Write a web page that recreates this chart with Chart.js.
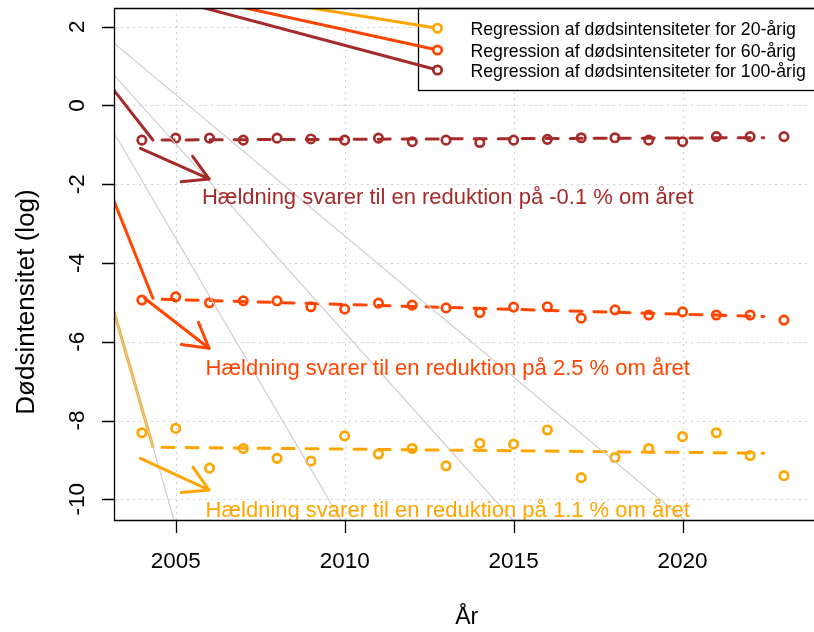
<!DOCTYPE html>
<html>
<head>
<meta charset="utf-8">
<script src="https://cdn.jsdelivr.net/npm/chart.js@4.4.0/dist/chart.umd.min.js"></script>
<style>
  html, body { margin: 0; padding: 0; background: #ffffff; overflow: hidden; }
  #wrap { width: 814px; height: 632px; }
</style>
</head>
<body>
<div id="wrap"><canvas id="chart" width="814" height="632"></canvas></div>
<script>
const years = [2004, 2005, 2006, 2007, 2008, 2009, 2010, 2011, 2012, 2013,
               2014, 2015, 2016, 2017, 2018, 2019, 2020, 2021, 2022, 2023];
const mort100 = [-0.88, -0.83, -0.83, -0.88, -0.83, -0.85, -0.88, -0.83, -0.92, -0.88,
                 -0.94, -0.88, -0.86, -0.82, -0.82, -0.88, -0.92, -0.79, -0.79, -0.79];
const mort60 = [-4.94, -4.86, -5.01, -4.96, -4.96, -5.11, -5.17, -5.02, -5.07, -5.14,
                -5.26, -5.12, -5.11, -5.40, -5.19, -5.32, -5.24, -5.32, -5.32, -5.45];
const mort20 = [-8.31, -8.20, -9.21, -8.71, -8.96, -9.03, -8.39, -8.85, -8.71, -9.15,
                -8.58, -8.60, -8.24, -9.45, -8.94, -8.71, -8.41, -8.31, -8.89, -9.40];

// Fitted (dashed) regression lines: end points
const regYears = [2004.6, 2022.4];
const reg100 = [-0.876, -0.818];
const reg60 = [-4.92, -5.36];
const reg20 = [-8.68, -8.83];

// Steep solid segments at the left edge
const segYears = [2003.0, 2004.326];
const seg100 = [0.574, -0.876];
const seg60 = [-2.05, -4.896];
const seg20 = [-4.715, -8.664];

// Lines running up to the legend symbols
const legendLineYears = { a20: [2008.5, 2012.747], a60: [2006.7, 2012.747], a100: [2005.5, 2012.747] };
const legendLine20 = [2.546, 1.960];
const legendLine60 = [2.544, 1.409];
const legendLine100 = [2.554, 0.901];

// Grey diagonal lines (start / end)
const greyLines = [
  [[2003.0, 1.705], [2020.2, -10.624]],
  [[2003.0, 0.942], [2015.1, -10.647]],
  [[2003.0, -0.442], [2010.0, -10.70]],
  [[2003.0, -4.715], [2005.1, -10.97]]
];

// Arrows: [x0, y0, x1, y1]
const arrow100 = [2003.957, -1.087, 2005.987, -1.866];
const arrow60 = [2004.08, -4.896, 2005.987, -6.166];
const arrow20 = [2003.957, -8.959, 2005.987, -9.764];

// Slope notes
const noteX = 2013.05;
const noteY = [-2.356, -6.68, -10.29];
const noteText = [
  'Hældning svarer til en reduktion på -0.1 % om året',
  'Hældning svarer til en reduktion på 2.5 % om året',
  'Hældning svarer til en reduktion på 1.1 % om året'
];

const legendLabels = [
  'Regression af dødsintensiteter for 20-årig',
  'Regression af dødsintensiteter for 60-årig',
  'Regression af dødsintensiteter for 100-årig'
];

const xTicks = [2005, 2010, 2015, 2020];
const yTicks = [2, 0, -2, -4, -6, -8, -10];

const BROWN = '#A52A2A';
const ORANGERED = '#FF4500';
const ORANGE = '#FFA500';
const GREY = '#cdcdcd';
const FONT = '"Liberation Sans", Arial, Helvetica, sans-serif';

function pts(xs, ys) {
  return xs.map((x, i) => ({ x: x, y: ys[i] }));
}

function lineSet(data, color, width, extra) {
  return Object.assign({
    data: data,
    showLine: true,
    borderColor: color,
    borderWidth: width,
    borderCapStyle: 'round',
    pointRadius: 0,
    pointHoverRadius: 0,
    tension: 0,
    clip: 0
  }, extra || {});
}

function pointSet(data, color) {
  return {
    data: data,
    showLine: false,
    pointStyle: 'circle',
    pointRadius: 4.2,
    pointHoverRadius: 4.2,
    pointBorderWidth: 2.7,
    pointBorderColor: color,
    pointBackgroundColor: 'rgba(0,0,0,0)',
    clip: 0
  };
}

function legendSet(xs, ys, color) {
  return lineSet(pts(xs, ys), color, 3, {
    pointRadius: [0, 4.2],
    pointHoverRadius: [0, 4.2],
    pointBorderWidth: 2.7,
    pointBorderColor: color,
    pointBackgroundColor: '#ffffff'
  });
}

const datasets = [];
greyLines.forEach(l => {
  datasets.push(lineSet(l.map(p => ({ x: p[0], y: p[1] })), GREY, 1.2));
});
datasets.push(lineSet(pts(segYears, seg100), BROWN, 3));
datasets.push(lineSet(pts(segYears, seg60), ORANGERED, 3));
datasets.push(lineSet(pts(segYears, seg20), ORANGE, 3));
datasets.push(legendSet(legendLineYears.a20, legendLine20, ORANGE));
datasets.push(legendSet(legendLineYears.a60, legendLine60, ORANGERED));
datasets.push(legendSet(legendLineYears.a100, legendLine100, BROWN));
datasets.push(lineSet(pts(regYears, reg100), BROWN, 3, { borderDash: [12, 12] }));
datasets.push(lineSet(pts(regYears, reg60), ORANGERED, 3, { borderDash: [12, 12] }));
datasets.push(lineSet(pts(regYears, reg20), ORANGE, 3, { borderDash: [12, 12] }));
datasets.push(pointSet(pts(years, mort100), BROWN));
datasets.push(pointSet(pts(years, mort60), ORANGERED));
datasets.push(pointSet(pts(years, mort20), ORANGE));

// index of the legend line datasets (20, 60, 100)
const legendIdx = [7, 8, 9];

function drawArrow(ctx, xs, ys, a, color) {
  const x0 = xs.getPixelForValue(a[0]), y0 = ys.getPixelForValue(a[1]);
  const x1 = xs.getPixelForValue(a[2]), y1 = ys.getPixelForValue(a[3]);
  const ang = Math.atan2(y1 - y0, x1 - x0);
  const L = 28, A = Math.PI / 6;
  ctx.strokeStyle = color;
  ctx.lineWidth = 3;
  ctx.lineCap = 'round';
  ctx.lineJoin = 'round';
  ctx.beginPath();
  ctx.moveTo(x0, y0);
  ctx.lineTo(x1, y1);
  ctx.stroke();
  ctx.beginPath();
  ctx.moveTo(x1 - L * Math.cos(ang - A), y1 - L * Math.sin(ang - A));
  ctx.lineTo(x1, y1);
  ctx.lineTo(x1 - L * Math.cos(ang + A), y1 - L * Math.sin(ang + A));
  ctx.stroke();
}

const rPlot = {
  id: 'rPlot',
  beforeDatasetsDraw(chart) {
    const ctx = chart.ctx, a = chart.chartArea;
    const xs = chart.scales.x, ys = chart.scales.y;
    ctx.save();
    // dotted grid
    ctx.strokeStyle = '#d3d3d3';
    ctx.lineWidth = 1.2;
    ctx.setLineDash([2, 4]);
    xTicks.forEach(t => {
      const px = Math.round(xs.getPixelForValue(t)) + 0.5;
      ctx.beginPath(); ctx.moveTo(px, a.top); ctx.lineTo(px, a.bottom); ctx.stroke();
    });
    yTicks.forEach(t => {
      const py = Math.round(ys.getPixelForValue(t)) + 0.5;
      ctx.beginPath(); ctx.moveTo(a.left, py); ctx.lineTo(a.right, py); ctx.stroke();
    });
    ctx.setLineDash([]);
    // legend box (white fill)
    const p0 = chart.getDatasetMeta(legendIdx[0]).data[1];
    const p2 = chart.getDatasetMeta(legendIdx[2]).data[1];
    const left = Math.round(p0.x - 19) + 0.5;
    const bottom = Math.round(p2.y + 20.5) + 0.5;
    ctx.fillStyle = '#ffffff';
    ctx.fillRect(left, a.top, chart.width - left + 5, bottom - a.top);
    ctx.strokeStyle = '#000000';
    ctx.lineWidth = 1.3;
    ctx.strokeRect(left, a.top + 0.5, chart.width - left + 5, bottom - a.top - 0.5);
    ctx.restore();
  },
  afterDatasetsDraw(chart) {
    const ctx = chart.ctx, a = chart.chartArea;
    const xs = chart.scales.x, ys = chart.scales.y;
    ctx.save();
    ctx.beginPath();
    ctx.rect(a.left, a.top, a.right - a.left, a.bottom - a.top);
    ctx.clip();
    drawArrow(ctx, xs, ys, arrow100, BROWN);
    drawArrow(ctx, xs, ys, arrow60, ORANGERED);
    drawArrow(ctx, xs, ys, arrow20, ORANGE);
    ctx.font = '22px ' + FONT;
    ctx.textAlign = 'center';
    ctx.textBaseline = 'middle';
    const noteColors = [BROWN, ORANGERED, ORANGE];
    noteText.forEach((t, i) => {
      ctx.fillStyle = noteColors[i];
      ctx.fillText(t, xs.getPixelForValue(noteX), ys.getPixelForValue(noteY[i]));
    });
    ctx.restore();

    ctx.save();
    // frame (right side lies outside the picture)
    ctx.strokeStyle = '#000000';
    ctx.lineWidth = 1.3;
    ctx.beginPath();
    ctx.moveTo(chart.width + 5, a.top + 0.5);
    ctx.lineTo(a.left - 0.5, a.top + 0.5);
    ctx.lineTo(a.left - 0.5, a.bottom + 0.5);
    ctx.lineTo(chart.width + 5, a.bottom + 0.5);
    ctx.stroke();
    // tick marks
    ctx.beginPath();
    xTicks.forEach(t => {
      const px = Math.round(xs.getPixelForValue(t)) + 0.5;
      ctx.moveTo(px, a.bottom); ctx.lineTo(px, a.bottom + 13);
    });
    yTicks.forEach(t => {
      const py = Math.round(ys.getPixelForValue(t)) + 0.5;
      ctx.moveTo(a.left, py); ctx.lineTo(a.left - 13, py);
    });
    ctx.stroke();
    // tick labels
    ctx.fillStyle = '#000000';
    ctx.font = '22.5px ' + FONT;
    ctx.textAlign = 'center';
    ctx.textBaseline = 'middle';
    xTicks.forEach(t => ctx.fillText(String(t), xs.getPixelForValue(t), 561.5));
    yTicks.forEach(t => {
      ctx.save();
      ctx.translate(78, ys.getPixelForValue(t));
      ctx.rotate(-Math.PI / 2);
      ctx.fillText(String(t), 0, 0);
      ctx.restore();
    });
    // axis titles
    ctx.font = '23px ' + FONT;
    ctx.fillText('År', 466.7, 618);
    ctx.save();
    ctx.font = '26px ' + FONT;
    ctx.translate(27, 302);
    ctx.rotate(-Math.PI / 2);
    ctx.fillText('Dødsintensitet (log)', 0, 0);
    ctx.restore();
    // legend texts
    ctx.font = '17.7px ' + FONT;
    ctx.textAlign = 'left';
    legendIdx.forEach((idx, i) => {
      const p = chart.getDatasetMeta(idx).data[1];
      ctx.fillText(legendLabels[i], p.x + 33, p.y + 1.8);
    });
    ctx.restore();
  }
};

new Chart(document.getElementById('chart'), {
  type: 'scatter',
  data: { datasets: datasets },
  options: {
    responsive: false,
    animation: false,
    devicePixelRatio: 1,
    layout: { padding: { top: 8, left: 0, right: 0, bottom: 0 } },
    plugins: { legend: { display: false }, tooltip: { enabled: false } },
    events: [],
    scales: {
      x: {
        type: 'linear', min: 2003.204, max: 2023.685,
        ticks: { display: false }, grid: { display: false }, border: { display: false },
        afterFit: s => { s.height = 112; }
      },
      y: {
        type: 'linear', min: -10.526, max: 2.475,
        ticks: { display: false }, grid: { display: false }, border: { display: false },
        afterFit: s => { s.width = 115; }
      }
    }
  },
  plugins: [rPlot]
});
</script>
</body>
</html>
